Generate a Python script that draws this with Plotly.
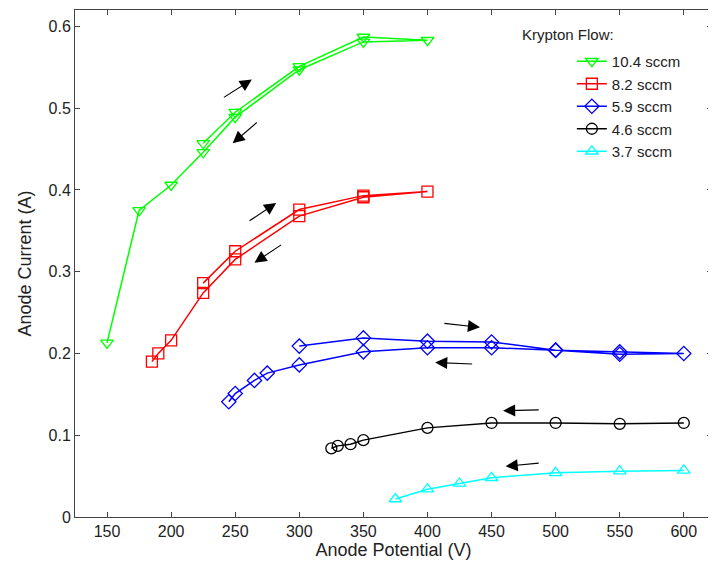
import plotly.graph_objects as go

# ---- data (Anode Potential V, Anode Current A) ----
labels = ["10.4 sccm", "8.2 sccm", "5.9 sccm", "4.6 sccm", "3.7 sccm"]
colors = ["#00ff00", "#ff0000", "#0000ff", "#000000", "#00ffff"]
symbols = ["triangle-down-open", "square-open", "diamond-open", "circle-open", "triangle-up-open"]

green_v = [225, 250, 300, 350, 400, 350, 300, 250, 225, 200, 175, 150]
green_i = [0.457, 0.495, 0.551, 0.587, 0.583, 0.581, 0.547, 0.489, 0.446, 0.406, 0.375, 0.213]

red_v = [225, 250, 300, 350, 400, 350, 300, 250, 225, 200, 190, 185]
red_i = [0.286, 0.325, 0.376, 0.393, 0.398, 0.391, 0.368, 0.315, 0.274, 0.216, 0.200, 0.190]

blue_v = [300, 350, 400, 450, 500, 550, 600, 550, 500, 450, 400, 350, 300, 275, 265, 250, 245]
blue_i = [0.209, 0.219, 0.215, 0.214, 0.204, 0.202, 0.200, 0.199, 0.204, 0.207, 0.207, 0.202,
          0.186, 0.176, 0.167, 0.151, 0.141]

black_v = [600, 550, 500, 450, 400, 350, 340, 330, 325]
black_i = [0.115, 0.114, 0.115, 0.115, 0.109, 0.094, 0.089, 0.087, 0.084]

cyan_v = [600, 550, 500, 450, 425, 400, 375]
cyan_i = [0.057, 0.056, 0.054, 0.048, 0.041, 0.034, 0.022]

series_v = [green_v, red_v, blue_v, black_v, cyan_v]
series_i = [green_i, red_i, blue_i, black_i, cyan_i]

# sweep-direction arrows: (tail_x, tail_y, head_x, head_y)
arrows = [
    (240, 0.512, 263, 0.535),
    (268, 0.484, 248, 0.457),
    (260, 0.361, 282, 0.384),
    (287, 0.334, 265, 0.311),
    (412, 0.237, 441, 0.232),
    (436, 0.187, 406, 0.189),
    (488, 0.131, 459, 0.130),
    (488, 0.066, 461, 0.062),
]

x_ticks = list(range(150, 601, 50))
y_ticks = [0, 0.1, 0.2, 0.3, 0.4, 0.5, 0.6]
y_tick_text = ["0", "0.1", "0.2", "0.3", "0.4", "0.5", "0.6"]

fig = go.Figure()
for lab, col, sym, vx, iy in zip(labels, colors, symbols, series_v, series_i):
    fig.add_trace(go.Scatter(
        x=vx, y=iy, mode="lines+markers", name=lab,
        line=dict(color=col, width=1.5),
        marker=dict(symbol=sym, size=11, color=col, line=dict(width=1.3, color=col)),
    ))

for tx, ty, hx, hy in arrows:
    fig.add_annotation(
        x=hx, y=hy, ax=tx, ay=ty, xref="x", yref="y", axref="x", ayref="y",
        text="", showarrow=True, arrowhead=2, arrowsize=2.2, arrowwidth=1.1,
        arrowcolor="black",
    )

fig.add_annotation(
    x=0.699, y=0.951, xref="paper", yref="paper", xanchor="left", yanchor="middle",
    text="Krypton Flow:", showarrow=False, font=dict(size=15, color="#222222"),
)

font_family = "Liberation Sans, Arial, sans-serif"
fig.update_layout(
    width=716, height=578,
    margin=dict(l=67, r=12, t=2, b=69),
    paper_bgcolor="white", plot_bgcolor="white",
    font=dict(family=font_family, size=16, color="#222222"),
    showlegend=True,
    legend=dict(
        x=0.780, y=0.931, xanchor="left", yanchor="top",
        bgcolor="rgba(0,0,0,0)",
        font=dict(size=15), tracegroupgap=0,
    ),
    xaxis=dict(
        range=[125, 622], tickvals=x_ticks, ticks="inside", ticklen=5,
        showgrid=False, zeroline=False, showline=True, linecolor="#444444",
        linewidth=1, mirror="ticks", tickcolor="#444444", automargin=False,
        title=dict(text="Anode Potential (V)", font=dict(size=18), standoff=4),
    ),
    yaxis=dict(
        range=[0, 0.62], tickvals=y_ticks, ticktext=y_tick_text,
        ticks="inside", ticklen=5,
        showgrid=False, zeroline=False, showline=True, linecolor="#444444",
        linewidth=1, mirror="ticks", tickcolor="#444444", automargin=False,
        title=dict(text="Anode Current (A)", font=dict(size=18), standoff=12),
    ),
)

fig.write_html("out.html")
